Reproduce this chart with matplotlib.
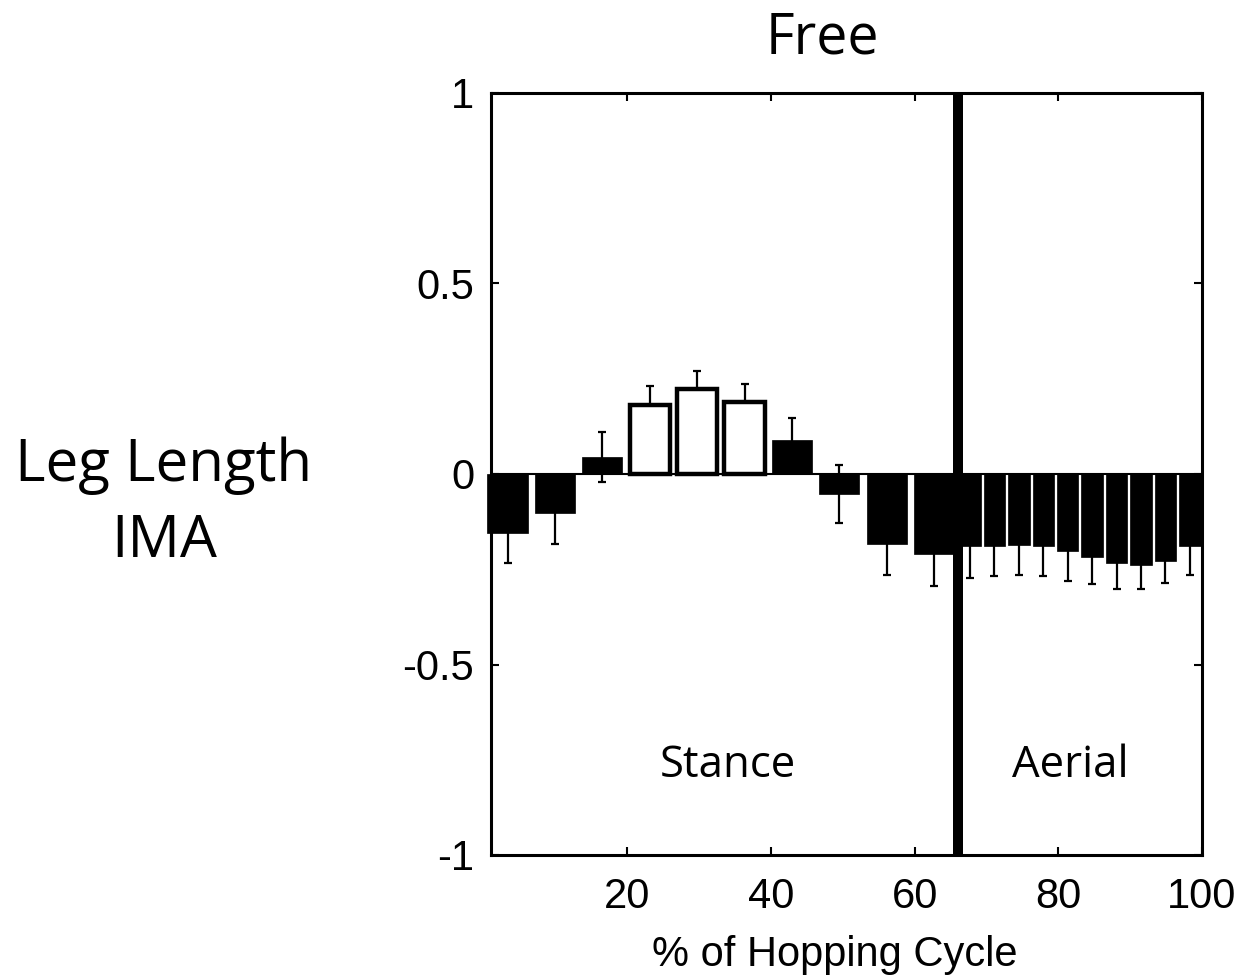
import matplotlib
matplotlib.use("Agg")
import matplotlib.pyplot as plt
import numpy as np

# Data
stance_pos = [3.3, 9.9, 16.5, 23.1, 29.7, 36.3, 42.9, 49.5, 56.1, 62.7]
stance_val = [-0.155, -0.102, 0.045, 0.18, 0.223, 0.19, 0.089, -0.052, -0.184, -0.21]
stance_err = [0.079, 0.081, 0.066, 0.05, 0.047, 0.046, 0.058, 0.076, 0.081, 0.084]
stance_sig = [False, False, False, True, True, True, False, False, False, False]

aerial_pos = [67.7, 71.1, 74.5, 77.9, 81.3, 84.7, 88.1, 91.5, 94.9, 98.3]
aerial_val = [-0.19, -0.189, -0.186, -0.19, -0.202, -0.218, -0.234, -0.24, -0.228, -0.19]
aerial_err = [0.084, 0.079, 0.079, 0.078, 0.078, 0.072, 0.069, 0.063, 0.059, 0.075]

phase_boundary = 66
x_ticks = [20, 40, 60, 80, 100]
y_ticks = [-1, -0.5, 0, 0.5, 1]
y_ticklabels = ["-1", "-0.5", "0", "0.5", "1"]

W, H = 1241, 977
fig = plt.figure(figsize=(W / 100, H / 100), dpi=100)
ax = fig.add_axes([491/W, 1-855/H, (1202-491)/W, (855-93)/H])

tick_font = "Liberation Sans"
label_font = "Open Sans"

# baseline
ax.axhline(0, color="black", lw=1.5, zorder=1)

# error bars (drawn beneath bars)
ax.errorbar(stance_pos, stance_val, yerr=stance_err, fmt="none", ecolor="black",
            elinewidth=1.6, capsize=3.2, capthick=1.6, zorder=1, clip_on=False)
ax.errorbar(aerial_pos, aerial_val, yerr=aerial_err, fmt="none", ecolor="black",
            elinewidth=1.6, capsize=3.2, capthick=1.6, zorder=1, clip_on=False)

for p, v, s in zip(stance_pos, stance_val, stance_sig):
    if s:
        ax.bar(p, v, width=5.6, color="white", edgecolor="black", linewidth=3.2,
               zorder=2, clip_on=False)
    else:
        ax.bar(p, v, width=5.6, color="black", edgecolor="black", linewidth=0.5,
               zorder=2, clip_on=False)

ax.bar(aerial_pos, aerial_val, width=3.0, color="black", edgecolor="black",
       linewidth=0.5, zorder=2)

ax.axvline(phase_boundary, color="black", lw=7.2, zorder=3)

ax.set_xlim(1, 100)
ax.set_ylim(-1, 1)
ax.set_xticks(x_ticks)
ax.set_yticks(y_ticks)
ax.set_yticklabels(y_ticklabels)
ax.tick_params(direction="in", length=6, width=1.5, top=True, right=True,
               labelsize=30)
ax.tick_params(axis="y", pad=12)
ax.tick_params(axis="x", pad=16)
for lab in ax.get_xticklabels() + ax.get_yticklabels():
    lab.set_fontfamily(tick_font)
for sp in ax.spines.values():
    sp.set_linewidth(2.2)

fig.text(835/W, 1-966/H, "% of Hopping Cycle", fontsize=30, fontfamily=tick_font,
         ha="center", va="baseline")

ax.text(34, -0.765, "Stance", fontsize=31.5, fontfamily=label_font,
        ha="center", va="center")
ax.text(81.7, -0.765, "Aerial", fontsize=31.5, fontfamily=label_font,
        ha="center", va="center")

fig.text(822/W, 1-54/H, "Free", fontsize=40, fontfamily=label_font,
         ha="center", va="baseline")
fig.text(164/W, 1-481/H, "Leg Length", fontsize=42, fontfamily=label_font,
         ha="center", va="baseline")
fig.text(164/W, 1-557/H, "IMA", fontsize=42, fontfamily=label_font,
         ha="center", va="baseline")

fig.savefig("out.png", dpi=100)
